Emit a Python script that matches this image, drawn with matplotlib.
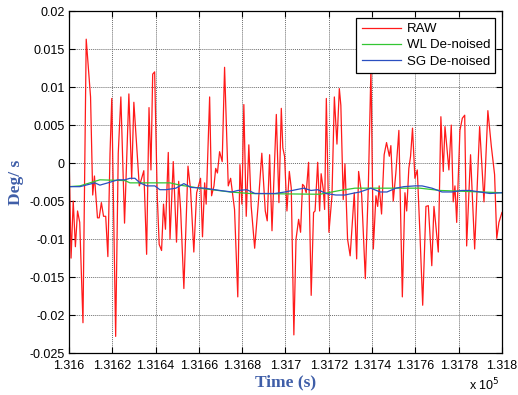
import matplotlib
matplotlib.use('Agg')
import matplotlib.pyplot as plt
from matplotlib.ticker import FixedLocator, FixedFormatter

# -- Data (time offsets in s from 131600, values in deg/s) --
T0 = 131600

raw_t = [0, 1, 2, 3, 4, 5, 6.5, 8, 10, 11, 11.8, 13.2, 14, 15, 16, 17, 18, 19, 19.8,
         21.6, 22.8, 24, 25.7, 27.7, 29, 30, 32.5, 33, 34.6, 35.9, 37, 37.9, 38.7, 39.6,
         40.8, 41.7, 42.8, 43.7, 44.6, 45.9, 46.7, 48.2, 49.7, 50.7, 51.6, 53.1, 55, 56.2,
         57.7, 59, 60.8, 61.7, 62.7, 63.4, 65, 65.9, 67, 67.8, 68.6, 69.6, 70.8, 71.9,
         73.6, 74.7, 76.5, 78, 79, 79.9, 80.8, 81.9, 83.1, 84.2, 85.8, 87.6, 89.1, 90.7,
         91.6, 92.7, 93.8, 95.8, 97, 98.1, 98.8, 99.6, 100.7, 101.8, 102.7, 103.9, 104.9,
         106.1, 107, 107.9, 108.6, 109.6, 110.7, 111.9, 113, 113.7, 114.9, 115.8, 116.5,
         117.5, 118.1, 118.9, 120.1, 121.5, 122.6, 123.8, 124.9, 125.6, 126.7, 127.5,
         128.7, 129.9, 131.8, 132.9, 133.8, 135.2, 136.9, 138.3, 139.5, 140.6, 141.8,
         142.6, 143.3, 144.4, 145.6, 146.7, 148, 148.7, 149.8, 151, 152.4, 154, 155.2,
         156, 157, 157.8, 158.7, 159.8, 160.9, 162.1, 163.4, 164.9, 166, 167.6, 168.6,
         169.5, 170.6, 171.8, 172.9, 173.7, 175.5, 176.6, 177.5, 178.3, 179.1, 180.6,
         181.7, 182.8, 183.7, 185.5, 187.4, 189.7, 191.7, 193.5, 195.1, 196.6, 197.6,
         198.6, 200]
raw_v = [0.0022, -0.0125, -0.005, -0.011, -0.0063, -0.0078, -0.021, 0.0163, 0.0087,
         -0.0042, -0.0017, -0.0072, -0.0072, -0.0052, -0.007, -0.007, -0.0123, 0.0013,
         0.0085, -0.0228, 0.0013, 0.0087, -0.0079, 0.0091, -0.0021, 0.008, -0.003,
         -0.0026, -0.001, -0.012, 0.0073, -0.0009, 0.0117, 0.012, -0.0043, -0.0107,
         -0.0115, -0.0054, -0.0087, 0.0014, -0.01, 0.0002, -0.0104, -0.0024, -0.0061,
         -0.0165, -0.0004, -0.0035, -0.0117, -0.0039, -0.002, -0.0097, -0.0026, -0.0054,
         0.0087, -0.0043, -0.003, -0.0007, -0.0013, 0.0015, 0.0002, 0.0126, -0.003,
         -0.002, -0.0061, -0.0176, -0.0002, -0.0054, 0.0077, -0.007, 0.0024, -0.0057,
         -0.0112, -0.0048, 0.0013, -0.0063, -0.0076, 0.0011, -0.0089, 0.0064, -0.0052,
         0.0072, 0.002, 0.0009, -0.0063, -0.0011, -0.0033, -0.0226, -0.01, -0.0074,
         -0.0091, -0.0028, -0.003, -0.0039, 0.0001, -0.0174, -0.0065, -0.0063, 0.0001,
         -0.0063, -0.0014, -0.0035, -0.0061, 0.0085, -0.0091, -0.0043, 0.0087, 0.0025,
         0.0098, 0.0076, -0.0048, -0.0001, -0.01, -0.0122, -0.0039, -0.0126, -0.0011,
         -0.0041, -0.0152, -0.003, 0.0125, -0.0113, -0.0043, -0.0057, -0.003, -0.0067,
         0.0011, 0.0027, 0.0009, 0.0023, -0.005, -0.0013, 0.0043, -0.0176, -0.0039,
         -0.0063, -0.0007, 0.0009, 0.0046, -0.002, -0.0009, -0.0091, -0.0187, -0.0057,
         -0.0056, -0.0135, -0.0057, -0.0083, -0.0117, 0.0061, -0.0011, 0.0048, -0.0009,
         0.005, -0.0051, -0.003, -0.0078, 0.0043, 0.0059, 0.0063, -0.0109, 0.0011,
         -0.0113, 0.0048, -0.0051, 0.0069, 0.0022, -0.0015, -0.0099, -0.0078, -0.0065]

wl_t = [0, 5.1, 9.7, 14.3, 25.9, 28.2, 46.7, 51.3, 60.5, 74.4, 83.6, 115.9, 125.2,
        132.1, 162.1, 171.4, 200]
wl_v = [-0.0031, -0.003, -0.0026, -0.0022, -0.0023, -0.0026, -0.0026, -0.0029, -0.0033,
        -0.0038, -0.004, -0.0041, -0.0036, -0.0033, -0.0033, -0.0036, -0.0039]

sg_t = [0, 5.1, 12, 14.3, 18, 22.6, 25.9, 28.2, 30.5, 32.8, 36, 39.7, 42, 44.8, 49.4,
        53.1, 56.4, 62.8, 69.7, 75.3, 78, 82.2, 85.9, 95.2, 99.8, 104.9, 108.5, 111.8,
        115, 118.7, 123.3, 127.5, 130.7, 134.4, 139.5, 143.7, 146.9, 151, 154.7, 159.8,
        163.1, 167.7, 172.3, 176.9, 181.5, 185.2, 189.8, 194.5, 200]
sg_v = [-0.0031, -0.0031, -0.0026, -0.0029, -0.0026, -0.0022, -0.0022, -0.002, -0.002,
        -0.0026, -0.003, -0.003, -0.0035, -0.0035, -0.0033, -0.0027, -0.0032, -0.0033,
        -0.0036, -0.0038, -0.0036, -0.0035, -0.004, -0.004, -0.0038, -0.0035, -0.0033,
        -0.0036, -0.0035, -0.004, -0.0042, -0.0042, -0.004, -0.0038, -0.0033, -0.0038,
        -0.0038, -0.0033, -0.0031, -0.003, -0.003, -0.0033, -0.0038, -0.0038, -0.0036,
        -0.0036, -0.0038, -0.004, -0.0039]

x_ticks = [131600, 131620, 131640, 131660, 131680, 131700, 131720, 131740, 131760,
           131780, 131800]
x_labels = ['1.316', '1.3162', '1.3164', '1.3166', '1.3168', '1.317', '1.3172',
            '1.3174', '1.3176', '1.3178', '1.318']
y_ticks = [-0.025, -0.02, -0.015, -0.01, -0.005, 0, 0.005, 0.01, 0.015, 0.02]
y_labels = ['-0.025', '-0.02', '-0.015', '-0.01', '-0.005', '0', '0.005', '0.01',
            '0.015', '0.02']

LABEL_BLUE = '#3f5ea8'

plt.rcParams['font.family'] = ['Liberation Sans', 'DejaVu Sans']

fig = plt.figure(figsize=(5.18, 3.95), dpi=100)
ax = fig.add_axes([0.133, 0.106, 0.836, 0.866])

ax.plot([T0 + t for t in raw_t], raw_v, color='#ff1a1a', lw=0.9, label='RAW')
ax.plot([T0 + t for t in wl_t], wl_v, color='#33c633', lw=0.9, label='WL De-noised')
ax.plot([T0 + t for t in sg_t], sg_v, color='#2a4fc0', lw=0.9, label='SG De-noised')

ax.set_xlim(131600, 131800)
ax.set_ylim(-0.025, 0.02)
ax.xaxis.set_major_locator(FixedLocator(x_ticks))
ax.xaxis.set_major_formatter(FixedFormatter(x_labels))
ax.yaxis.set_major_locator(FixedLocator(y_ticks))
ax.yaxis.set_major_formatter(FixedFormatter(y_labels))
ax.tick_params(direction='in', top=True, right=True, labelsize=9, length=4,
               width=0.8)
ax.tick_params(axis='x', pad=5)
ax.tick_params(axis='y', pad=3)
ax.grid(True, color='#6e6e6e', lw=0.7, linestyle=(0, (1, 1)))
for s in ax.spines.values():
    s.set_linewidth(0.9)

ax.set_xlabel('Time (s)', family='Liberation Serif', fontweight='bold',
              fontsize=12.5, color=LABEL_BLUE, labelpad=2)
ax.set_ylabel('Deg/ s', family='Liberation Serif', fontweight='bold',
              fontsize=12.5, color=LABEL_BLUE, labelpad=4)

# MATLAB-style exponent note under the right end of the x axis
fig.text(0.965, 0.004, r'x 10$^5$', ha='right', va='bottom', fontsize=9)

leg = ax.legend(loc='upper right', fontsize=9.5, fancybox=False, framealpha=1,
                edgecolor='black', handlelength=3.0, handletextpad=0.4,
                labelspacing=0.3, borderaxespad=0.5, borderpad=0.4)
leg.get_frame().set_linewidth(0.9)

fig.savefig('out.png', dpi=100)
plt.close(fig)
